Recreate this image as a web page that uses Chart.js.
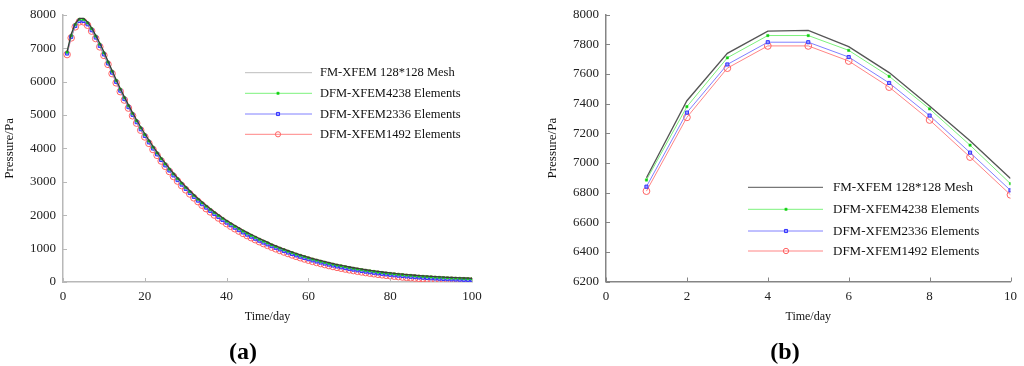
<!DOCTYPE html>
<html>
<head>
<meta charset="utf-8">
<script src="https://cdn.jsdelivr.net/npm/chart.js@4.4.1/dist/chart.umd.min.js"></script>
<style>
  html, body { margin:0; padding:0; background:#fff; }
  body { width:1024px; height:366px; position:relative; overflow:hidden; }
  .pane { position:absolute; top:0; width:512px; height:366px; }
  .cap { position:absolute; top:336px; width:60px; margin-left:-30px; text-align:center;
         font: bold 24px "Liberation Serif", "DejaVu Serif", serif; line-height:30px; color:#000; }
</style>
</head>
<body>
<div class="pane" style="left:0"><canvas id="chartA" width="512" height="366"></canvas></div>
<div class="pane" style="left:512px"><canvas id="chartB" width="512" height="366"></canvas></div>
<div class="cap" style="left:243px">(a)</div>
<div class="cap" style="left:785px">(b)</div>
<script>
// ---------------- data ----------------
const DAYS = [1,2,3,4,5,6,7,8,9,10,11,12,13,14,15,16,17,18,19,20,
  21,22,23,24,25,26,27,28,29,30,31,32,33,34,35,36,37,38,39,40,
  41,42,43,44,45,46,47,48,49,50,51,52,53,54,55,56,57,58,59,60,
  61,62,63,64,65,66,67,68,69,70,71,72,73,74,75,76,77,78,79,80,
  81,82,83,84,85,86,87,88,89,90,91,92,93,94,95,96,97,98,99,100];

const SERIES_LABELS = ['FM-XFEM 128*128 Mesh', 'DFM-XFEM4238 Elements', 'DFM-XFEM2336 Elements', 'DFM-XFEM1492 Elements'];

const FM_MESH = [6900,7420,7740,7890,7895,7785,7610,7385,7150,6895,
  6610,6334,6058,5795,5543,5302,5071,4851,4640,4439,
  4246,4062,3887,3718,3558,3404,3257,3117,2982,2854,
  2731,2614,2502,2395,2292,2194,2100,2011,1925,1843,
  1765,1690,1619,1550,1485,1422,1362,1303,1246,1192,
  1129,1079,1030,983,938,895,853,813,775,738,
  703,670,638,607,577,549,522,497,473,449,
  427,406,386,367,349,332,315,300,285,271,
  258,246,234,223,212,202,193,184,176,168,
  161,154,147,141,135,130,125,120,115,111];

const DFM_4238 = [6885,7380,7710,7860,7860,7760,7585,7365,7120,6860,
  6587,6311,6035,5772,5520,5279,5048,4828,4617,4416,
  4223,4039,3864,3695,3535,3381,3234,3094,2959,2831,
  2708,2591,2479,2372,2269,2171,2077,1988,1902,1820,
  1742,1667,1596,1527,1462,1399,1339,1280,1223,1169,
  1112,1062,1013,966,921,878,836,796,758,721,
  686,653,621,590,560,532,505,480,456,432,
  410,389,369,350,332,315,298,283,268,254,
  241,229,217,206,195,185,176,167,159,151,
  144,137,130,124,118,113,108,103,98,94];

const DFM_2336 = [6840,7340,7665,7815,7815,7715,7540,7320,7070,6815,
  6545,6269,5993,5730,5478,5237,5006,4786,4575,4374,
  4181,3997,3822,3653,3493,3339,3192,3052,2917,2789,
  2666,2549,2437,2330,2227,2129,2035,1946,1860,1778,
  1700,1625,1554,1485,1420,1357,1297,1238,1181,1127,
  1074,1024,975,928,883,840,798,758,720,683,
  648,615,583,552,522,494,467,442,418,394,
  372,351,331,312,294,277,260,245,230,216,
  203,191,179,168,157,147,138,129,121,113,
  106,99,92,86,80,75,70,65,60,56];

const DFM_1492 = [6810,7308,7640,7790,7790,7688,7512,7290,7040,6785,
  6515,6239,5963,5700,5448,5207,4976,4756,4545,4344,
  4151,3967,3792,3623,3463,3309,3162,3022,2887,2759,
  2636,2519,2407,2300,2197,2099,2005,1916,1830,1748,
  1670,1595,1524,1455,1390,1327,1267,1208,1151,1097,
  1044,994,945,898,853,810,768,728,690,653,
  618,585,553,522,492,464,437,412,388,364,
  342,321,301,282,264,247,230,215,200,186,
  173,161,149,138,127,117,108,99,91,83,
  76,69,62,56,50,46,42,38,34,30];

// panel (b) zooms into the first days
const B_COUNT = 10;

const A_XTICKS = [0,20,40,60,80,100];
const A_YTICKS = [0,1000,2000,3000,4000,5000,6000,7000,8000];
const B_XTICKS = [0,2,4,6,8,10];
const B_YTICKS = [6200,6400,6600,6800,7000,7200,7400,7600,7800,8000];

const X_TITLE = 'Time/day';
const Y_TITLE = 'Pressure/Pa';

// ---------------- helpers ----------------
const SERIF = '"Liberation Serif", "DejaVu Serif", serif';

function pts(xs, ys, n) {
  const out = [];
  for (let i = 0; i < n; i++) out.push({ x: xs[i], y: ys[i] });
  return out;
}

function makeDatasets(n, black, redR) {
  const values = [FM_MESH, DFM_4238, DFM_2336, DFM_1492];
  const styles = [
    { borderColor: black, borderWidth: 1.3, pointRadius: 0 },
    { borderColor: '#7cf27c', borderWidth: 1, pointStyle: 'rect', pointRadius: 1.6,
      pointBackgroundColor: '#10d010', pointBorderColor: '#10d010', pointBorderWidth: 0.5 },
    { borderColor: '#8080ff', borderWidth: 1, pointStyle: 'rect', pointRadius: 2.2,
      pointBackgroundColor: '#9a9aff', pointBorderColor: '#3434ff', pointBorderWidth: 1 },
    { borderColor: '#ff8585', borderWidth: 1, pointStyle: 'circle', pointRadius: redR,
      pointBackgroundColor: 'rgba(255,255,255,0)', pointBorderColor: '#ff6464', pointBorderWidth: 1 }
  ];
  return values.map((v, i) => Object.assign({
    label: SERIES_LABELS[i],
    data: pts(DAYS, v, n),
    tension: 0,
    fill: false,
    pointHoverRadius: 0
  }, styles[i]));
}

function tickPlugin(color) {
  return {
    id: 'inTicks',
    afterDraw(chart) {
      const ctx = chart.ctx, ca = chart.chartArea;
      const xs = chart.scales.x, ys = chart.scales.y;
      ctx.save();
      ctx.strokeStyle = color;
      ctx.lineWidth = 1;
      ctx.beginPath();
      xs.ticks.forEach(t => {
        const px = Math.round(xs.getPixelForValue(t.value)) + 0.5;
        ctx.moveTo(px, ca.bottom);
        ctx.lineTo(px, ca.bottom - 4);
      });
      ys.ticks.forEach(t => {
        const py = Math.round(ys.getPixelForValue(t.value)) + 0.5;
        ctx.moveTo(ca.left, py);
        ctx.lineTo(ca.left + 4, py);
      });
      ctx.stroke();
      ctx.restore();
    }
  };
}

function legendPlugin(cfg) {
  return {
    id: 'customLegend',
    afterDraw(chart) {
      const ctx = chart.ctx;
      ctx.save();
      chart.data.datasets.forEach((ds, i) => {
        const y = cfg.ys[i];
        ctx.strokeStyle = (i === 0 && cfg.firstLine) ? cfg.firstLine : ds.borderColor;
        ctx.lineWidth = i === 0 ? 1 : ds.borderWidth;
        ctx.beginPath();
        ctx.moveTo(cfg.x0, y);
        ctx.lineTo(cfg.x1, y);
        ctx.stroke();
        if (ds.pointRadius > 0) {
          ctx.fillStyle = ds.pointBackgroundColor;
          ctx.strokeStyle = ds.pointBorderColor;
          ctx.lineWidth = ds.pointBorderWidth;
          ctx.beginPath();
          if (ds.pointStyle === 'circle') {
            ctx.arc(cfg.mx, y, cfg.mr[i], 0, Math.PI * 2);
          } else {
            const s = cfg.mr[i] * Math.SQRT1_2;
            ctx.rect(cfg.mx - s, y - s, 2 * s, 2 * s);
          }
          ctx.fill();
          ctx.stroke();
        }
        ctx.fillStyle = '#111';
        ctx.font = cfg.font;
        ctx.textBaseline = 'middle';
        ctx.textAlign = 'left';
        ctx.fillText(ds.label, cfg.tx, y + 0.5);
      });
      ctx.restore();
    }
  };
}

function makeChart(id, o) {
  return new Chart(document.getElementById(id), {
    type: 'line',
    data: { datasets: makeDatasets(o.n, o.black, o.redR) },
    options: {
      responsive: false,
      animation: false,
      devicePixelRatio: 1,
      events: [],
      layout: { padding: o.padding },
      plugins: { legend: { display: false }, tooltip: { enabled: false } },
      scales: {
        x: {
          type: 'linear',
          min: o.xt[0], max: o.xt[o.xt.length - 1],
          afterBuildTicks: s => { s.ticks = o.xt.map(v => ({ value: v })); },
          afterFit: s => { s.height = o.xh; },
          grid: { drawOnChartArea: false, drawTicks: false },
          border: { display: true, color: o.axis, width: 1.5 },
          ticks: { padding: 7, color: '#222', font: { family: SERIF, size: 13 },
                   maxRotation: 0, autoSkip: false, callback: v => String(v) },
          title: { display: true, text: X_TITLE, color: '#111',
                   font: { family: SERIF, size: 12 }, padding: { top: 0, bottom: 0 } }
        },
        y: {
          type: 'linear',
          min: o.yt[0], max: o.yt[o.yt.length - 1],
          afterBuildTicks: s => { s.ticks = o.yt.map(v => ({ value: v })); },
          afterFit: s => { s.width = o.yw; },
          grid: { drawOnChartArea: false, drawTicks: false },
          border: { display: true, color: o.axis, width: 1.5 },
          ticks: { padding: 7, color: '#222', font: { family: SERIF, size: 13 },
                   autoSkip: false, callback: v => String(v) },
          title: { display: true, text: Y_TITLE, color: '#111',
                   font: { family: SERIF, size: 13 }, padding: { top: 2, bottom: 0 } }
        }
      }
    },
    plugins: [tickPlugin(o.axis), legendPlugin(o.legend)]
  });
}

makeChart('chartA', {
  n: DAYS.length, black: '#3c3c3c', axis: '#b8b8b8', redR: 3.3,
  xt: A_XTICKS, yt: A_YTICKS,
  padding: { left: 0, top: 8.5, right: 40, bottom: 42.3 },
  yw: 63, xh: 41.7,
  legend: { x0: 245, x1: 312, mx: 278, tx: 320, ys: [72.7, 93.3, 114, 134.3],
            mr: [0, 1.6, 2.2, 2.6], font: '12.5px ' + SERIF, firstLine: '#bdbdbd' }
});

makeChart('chartB', {
  n: B_COUNT, black: '#555555', axis: '#858585', redR: 3.4,
  xt: B_XTICKS, yt: B_YTICKS,
  padding: { left: 31, top: 7.5, right: 8, bottom: 42.3 },
  yw: 63, xh: 42.2,
  legend: { x0: 236, x1: 311, mx: 274, tx: 321, ys: [187.3, 209.3, 231, 251],
            mr: [0, 1.6, 2.2, 2.7], font: '13px ' + SERIF, firstLine: '#555555' }
});
</script>
</body>
</html>
